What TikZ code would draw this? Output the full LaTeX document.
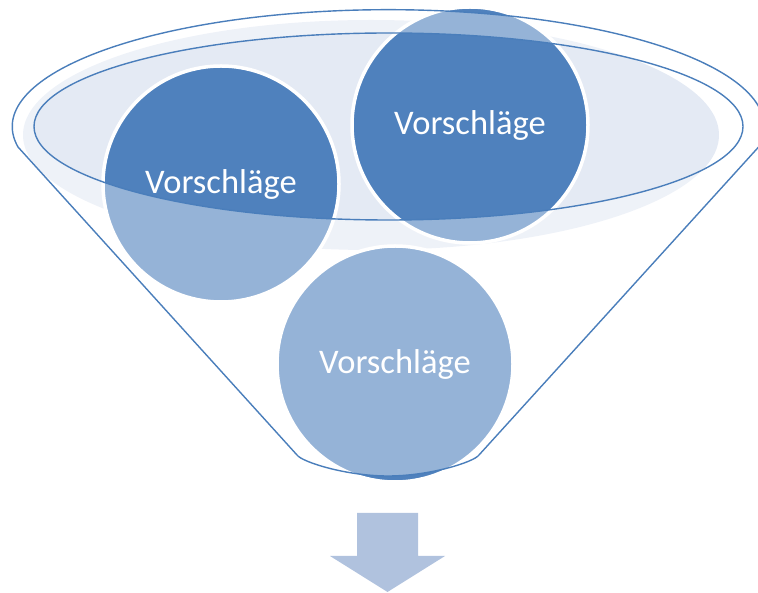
\documentclass[tikz,border=0pt]{standalone}
\usepackage{fontspec}
\setmainfont{Carlito}
\definecolor{accent}{HTML}{4F81BD}
\definecolor{edge}{HTML}{4A7EBB}
\definecolor{pale}{RGB}{228,234,244}
\definecolor{arrowc}{HTML}{B0C2DE}
\tikzset{
  idea/.style={circle, minimum size=236pt, inner sep=0pt, fill=accent, draw=white, line width=3.5pt,
    text=white, font=\fontsize{34.5}{40}\selectfont},
  rim/.style={draw=edge, line width=1.4pt},
}
\begin{document}
\begin{tikzpicture}[x=1pt,y=1pt]
\useasboundingbox (0,0) rectangle (758,592);
\clip (0,0) rectangle (758,592);
% pale interior of the funnel mouth
\fill[pale] (371,457) ellipse [x radius=348pt, y radius=115pt];
% circles
\node[idea] (c1) at (221,408) {Vorschläge};
\node[idea] (c2) at (470,467) {Vorschläge};
\node[idea] (c3) at (395,228) {Vorschläge};
% funnel body overlay (semi-transparent white), minus the mouth
\fill[white, fill opacity=0.4, even odd rule]
  (18,445) arc[start angle=190, end angle=-10, x radius=376pt, y radius=117pt]
  -- (479,137) .. controls (474,130) and (430,116) .. (388,116)
  .. controls (346,116) and (302,130) .. (297,137) -- cycle
  (388.5,465.5) ellipse [x radius=354.5pt, y radius=93.5pt];
% outlines
\draw[rim, line join=round]
  (18,445) arc[start angle=190, end angle=-10, x radius=376pt, y radius=117pt]
  -- (479,137) .. controls (474,130) and (430,116) .. (388,116)
  .. controls (346,116) and (302,130) .. (297,137) -- cycle;
\draw[rim] (388.5,465.5) ellipse [x radius=354.5pt, y radius=93.5pt];
% arrow
\fill[arrowc] (357,79) -- (418,79) -- (418,36) -- (445,36) -- (387.5,0) -- (330,36) -- (357,36) -- cycle;
\end{tikzpicture}
\end{document}
